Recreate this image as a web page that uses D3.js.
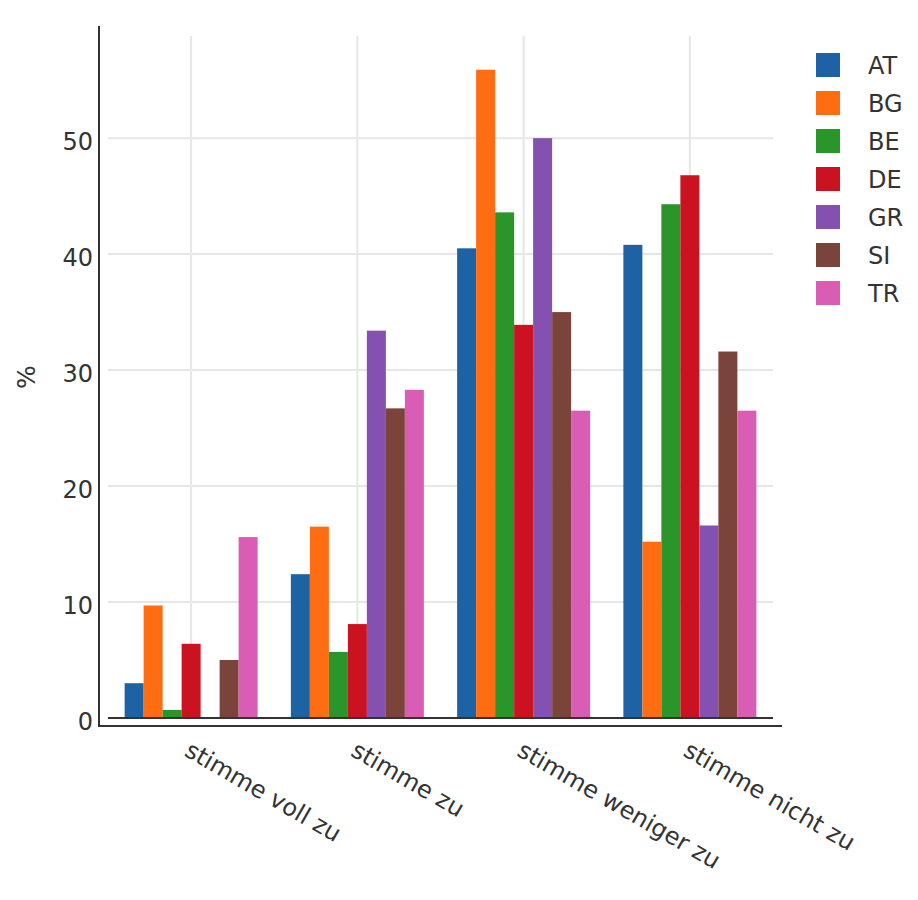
<!DOCTYPE html>
<html>
<head>
<meta charset="utf-8">
<script src="https://cdn.jsdelivr.net/npm/d3@7"></script>
<style>
  html, body { margin: 0; padding: 0; background: #fff; }
  text { font-family: "DejaVu Sans", Verdana, sans-serif; fill: #333; }
</style>
</head>
<body>
<svg id="chart" width="918" height="900"></svg>
<script>
const categories = ["stimme voll zu", "stimme zu", "stimme weniger zu", "stimme nicht zu"];
const countries = ["AT", "BG", "BE", "DE", "GR", "SI", "TR"];
const AT = [3.0, 12.4, 40.5, 40.8];
const BG = [9.7, 16.5, 55.9, 15.2];
const BE = [0.7, 5.7, 43.6, 44.3];
const DE = [6.4, 8.1, 33.9, 46.8];
const GR = [0.0, 33.4, 50.0, 16.6];
const SI = [5.0, 26.7, 35.0, 31.6];
const TR = [15.6, 28.3, 26.5, 26.5];
const yTicks = [0, 10, 20, 30, 40, 50];
const colors = ["#1c62a5", "#ff6d12", "#2a9528", "#cb1221", "#8551b0", "#7b443b", "#da5db5"];
const seriesValues = [AT, BG, BE, DE, GR, SI, TR];

const svg = d3.select("#chart");
const pLeft = 108, pRight = 773, pTop = 36, pBottom = 718;

const x = d3.scaleBand().domain(categories).range([pLeft, pRight]).paddingInner(0).paddingOuter(0);
const yMax = d3.max(seriesValues.flat()) * 1.052;
const y = d3.scaleLinear().domain([0, yMax]).range([pBottom, pTop]);
const inner = d3.scaleBand().domain(countries).range([0, x.bandwidth() * 0.8]).padding(0);
const groupOffset = x.bandwidth() * 0.1;

// grid
const grid = svg.append("g");
grid.selectAll("line.h").data(yTicks.filter(d => d > 0)).enter().append("line")
  .attr("x1", pLeft).attr("x2", pRight)
  .attr("y1", d => y(d)).attr("y2", d => y(d))
  .attr("stroke", "#e6e6e6").attr("stroke-width", 2);
grid.selectAll("line.v").data(categories).enter().append("line")
  .attr("x1", d => x(d) + x.bandwidth() / 2).attr("x2", d => x(d) + x.bandwidth() / 2)
  .attr("y1", pTop).attr("y2", pBottom)
  .attr("stroke", "#e6e6e6").attr("stroke-width", 2);

// bars
const data = [];
categories.forEach((c, ci) => {
  countries.forEach((k, ki) => {
    data.push({ c, k, v: seriesValues[ki][ci], color: colors[ki] });
  });
});
svg.append("g").selectAll("rect").data(data).enter().append("rect")
  .attr("x", d => x(d.c) + groupOffset + inner(d.k))
  .attr("width", inner.bandwidth())
  .attr("y", d => y(d.v))
  .attr("height", d => pBottom - y(d.v))
  .attr("fill", d => d.color);

// zero line
svg.append("line").attr("x1", pLeft).attr("x2", pRight)
  .attr("y1", y(0)).attr("y2", y(0))
  .attr("stroke", "#333").attr("stroke-width", 2);

// axis lines
svg.append("line").attr("x1", 99).attr("x2", 99).attr("y1", 26).attr("y2", 727)
  .attr("stroke", "#333").attr("stroke-width", 2);
svg.append("line").attr("x1", 98).attr("x2", 782).attr("y1", 726).attr("y2", 726)
  .attr("stroke", "#333").attr("stroke-width", 2);

// y tick labels
svg.append("g").selectAll("text").data(yTicks).enter().append("text")
  .attr("x", 93).attr("y", d => y(d) + 12)
  .attr("text-anchor", "end")
  .style("font-size", "24px")
  .text(d => d);

// y title
svg.append("text")
  .attr("transform", "translate(35,377) rotate(-90)")
  .attr("text-anchor", "middle")
  .style("font-size", "25px")
  .text("%");

// x tick labels
svg.append("g").selectAll("text").data(categories).enter().append("text")
  .attr("transform", d => `translate(${x(d) + x.bandwidth() / 2 - 8},755) rotate(30)`)
  .attr("text-anchor", "start")
  .style("font-size", "24px")
  .text(d => d);

// legend
const leg = svg.append("g").selectAll("g").data(countries).enter().append("g")
  .attr("transform", (d, i) => `translate(816,${53 + i * 38})`);
leg.append("rect").attr("width", 24).attr("height", 24).attr("fill", (d, i) => colors[i]);
leg.append("text").attr("x", 52).attr("y", 21).style("font-size", "24px").text(d => d);
</script>
</body>
</html>
